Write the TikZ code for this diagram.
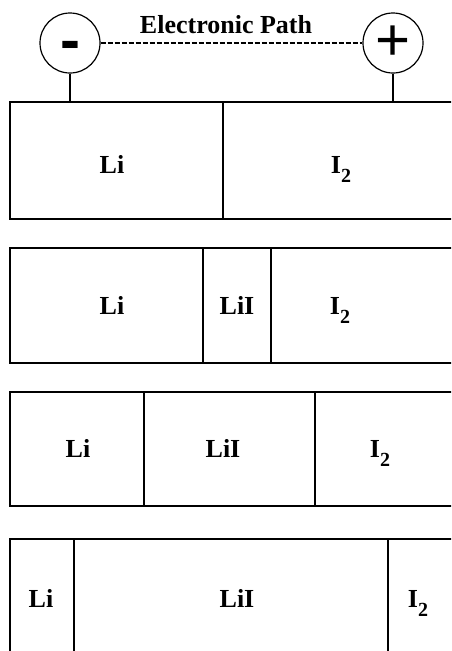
\documentclass[tikz,border=0pt]{standalone}
\usepackage{fontspec}
\setmainfont{Liberation Serif}
\newfontfamily\signfont{Liberation Sans}
\usetikzlibrary{positioning}
\newcommand{\subtwo}{\raisebox{-9pt}{\fontsize{20}{20}\selectfont 2}}

\begin{document}
\begin{tikzpicture}[x=1pt, y=-1pt,
    cell/.style={draw=black, line width=1.6pt},
    lbl/.style={anchor=base, inner sep=0pt, font=\fontsize{26}{30}\selectfont\bfseries},
    pole/.style={draw=black, circle, line width=1.2pt, minimum size=60pt, inner sep=0pt, font=\signfont\fontsize{60}{60}\selectfont},
    wire/.style={black, line width=1.6pt}]
    \useasboundingbox (0,0) rectangle (451,651);
    \clip (0,0) rectangle (451,651);

    % terminals and the outer circuit
    \node[pole] (neg) at (70,43) {\vphantom{+}\bfseries -};
    \node[pole] (pos) at (393,43) {+};
    \draw[dash pattern=on 5pt off 2pt, line width=1.6pt] (neg) -- (pos);
    \node[lbl] (path) at (226,33) {Electronic Path};
    \coordinate (negtop) at (70,102);
    \coordinate (postop) at (393,102);
    \draw[wire] (neg) -- (negtop);
    \draw[wire] (pos) -- (postop);

    % cell before discharge
    \draw[cell] (10,102) rectangle (470,219);
    \draw[cell] (223,102) -- (223,219);
    \node[lbl] (li1) at (112,173) {Li};
    \node[lbl] (iod1) at (341,173) {I\subtwo};

    % thin LiI layer
    \draw[cell] (10,248) rectangle (470,363);
    \draw[cell] (203,248) -- (203,363);
    \draw[cell] (271,248) -- (271,363);
    \node[lbl] (li2) at (112,314) {Li};
    \node[lbl] (lii2) at (237,314) {LiI};
    \node[lbl] (iod2) at (340,314) {I\subtwo};

    % thicker LiI layer
    \draw[cell] (10,392) rectangle (470,506);
    \draw[cell] (144,392) -- (144,506);
    \draw[cell] (315,392) -- (315,506);
    \node[lbl] (li3) at (78,457) {Li};
    \node[lbl] (lii3) at (223,457) {LiI};
    \node[lbl] (iod3) at (380,457) {I\subtwo};

    % nearly discharged
    \draw[cell] (10,539) rectangle (470,680);
    \draw[cell] (74,539) -- (74,680);
    \draw[cell] (388,539) -- (388,680);
    \node[lbl] (li4) at (41,607) {Li};
    \node[lbl] (lii4) at (237,607) {LiI};
    \node[lbl] (iod4) at (418,607) {I\subtwo};
\end{tikzpicture}
\end{document}
